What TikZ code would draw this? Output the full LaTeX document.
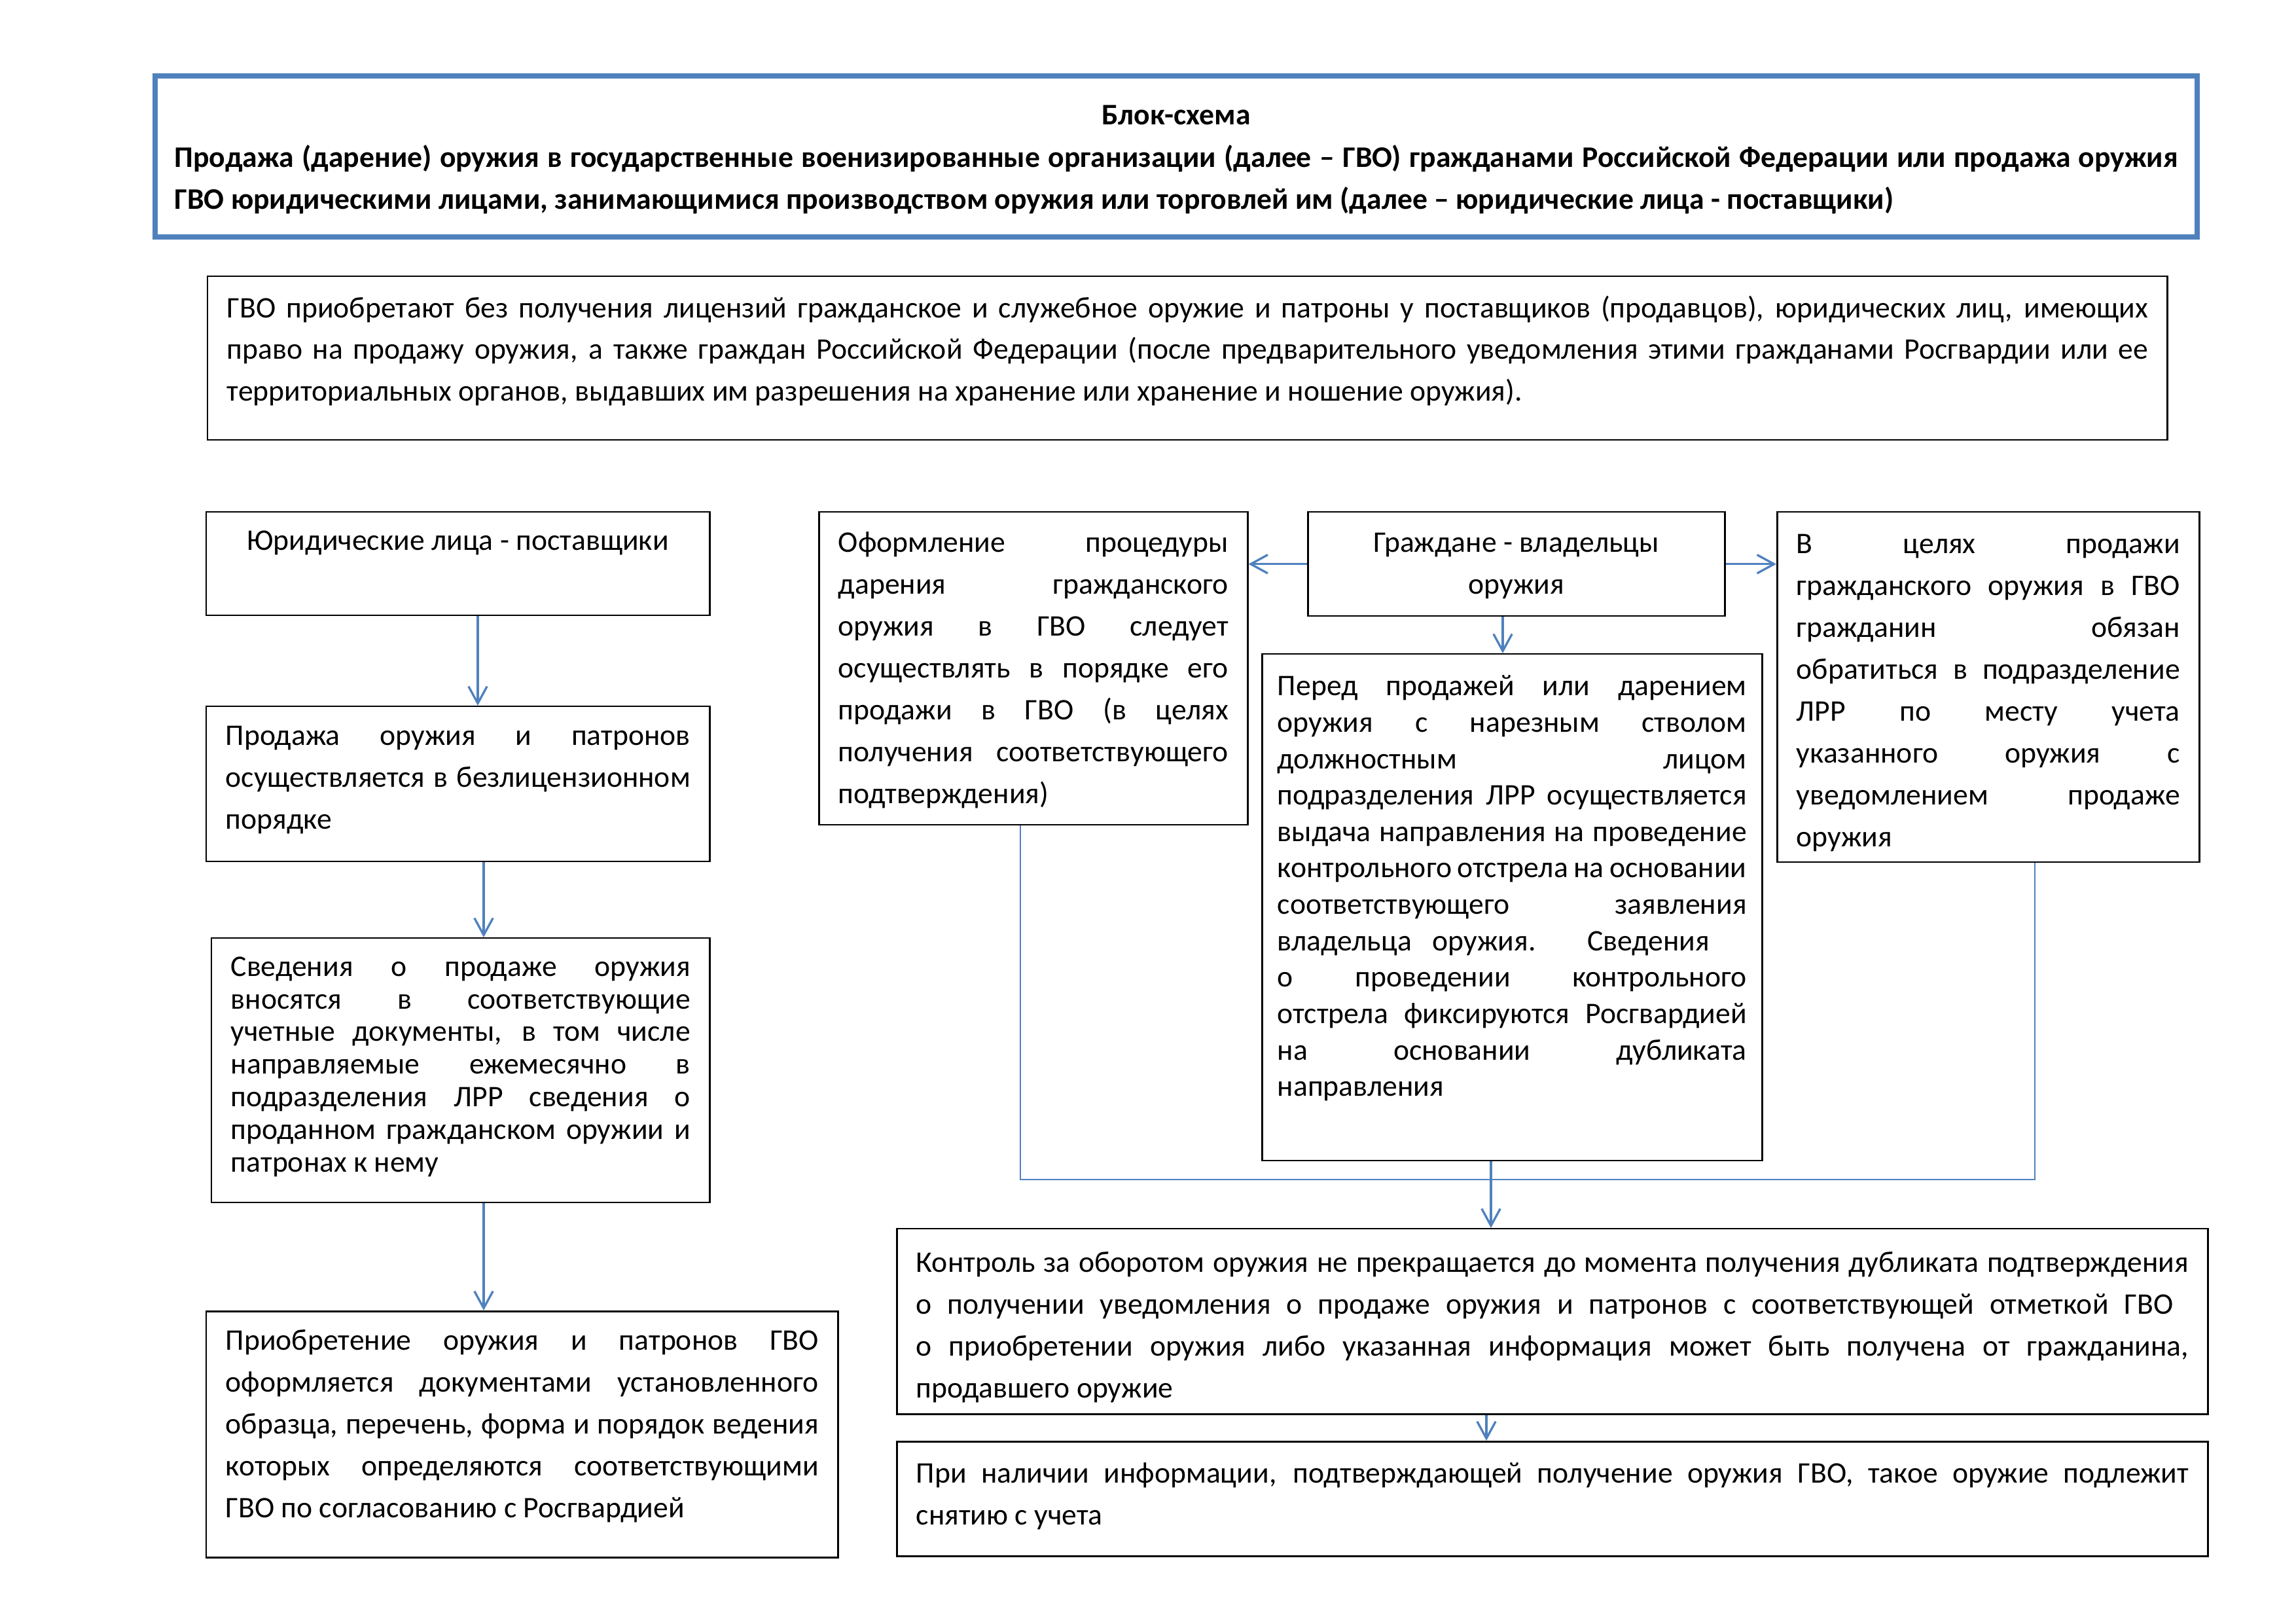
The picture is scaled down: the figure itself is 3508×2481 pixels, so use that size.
\documentclass[tikz,border=0pt]{standalone}
\usepackage{fontspec}
\setmainfont{Carlito}
\usetikzlibrary{arrows.meta}
\definecolor{flowblue}{HTML}{4F81BD}
\newlength{\pxu}\setlength{\pxu}{0.084664mm}
\newlength{\padx}\setlength{\padx}{2.5mm}
\newlength{\pady}\setlength{\pady}{2.4mm}
\hyphenpenalty=10000 \exhyphenpenalty=10000 \tolerance=10000 \hbadness=10000 \vbadness=10000
\newcommand{\boxtext}[5][8pt]{\parbox[t][\dimexpr#3\pxu-2\pady\relax][t]{\dimexpr#2\pxu-2\padx\relax}{\fontsize{11pt}{#4}\selectfont\leavevmode\rule{0pt}{#1}#5}}
\begin{document}
\begin{tikzpicture}[x=0.084664mm, y=-0.084664mm,
		box/.style={draw, line width=0.6pt, anchor=north west, inner xsep=\padx, inner ysep=\pady},
		flow/.style={draw=flowblue, line width=0.8pt, -{Straight Barb[length=2.2mm, width=2.4mm]}},
		link/.style={draw=flowblue, line width=0.4pt}]
		\useasboundingbox (0,0) rectangle (3508,2481);
		
		\node[box, draw=flowblue, line width=1.9pt] (title) at (233,112) {\boxtext[11.1pt]{3120}{246}{15.6pt}{\bfseries\centering Блок-схема\par
			\leftskip=0pt \rightskip=0pt \parfillskip=0pt plus 1fil
			Продажа (дарение) оружия в государственные военизированные организации (далее – ГВО) гражданами Российской Федерации или продажа оружия\linebreak
			ГВО юридическими лицами, занимающимися производством оружия или торговлей им (далее – юридические лица - поставщики)}};
		\node[box] (intro) at (316,421) {\boxtext[8.3pt]{2994}{250}{15.4pt}{ГВО приобретают без получения лицензий гражданское и служебное оружие и патроны у поставщиков (продавцов), юридических лиц, имеющих\linebreak
			право на продажу оружия, а также граждан Российской Федерации (после предварительного уведомления этими гражданами Росгвардии или ее\linebreak
			территориальных органов, выдавших им разрешения на хранение или хранение и ношение оружия).}};
		
		\node[box] (jur) at (314,781) {\boxtext[7pt]{769}{158}{15.4pt}{\centering Юридические лица - поставщики}};
		\node[box] (sale) at (314,1078) {\boxtext[7.4pt]{769}{237}{15.4pt}{Продажа оружия и патронов\linebreak
			осуществляется в безлицензионном\linebreak
			порядке}};
		\node[box] (sved) at (322,1432) {\boxtext[7pt]{761}{404}{12pt}{Сведения о продаже оружия\linebreak
			вносятся в соответствующие\linebreak
			учетные документы, в том числе\linebreak
			направляемые ежемесячно в\linebreak
			подразделения ЛРР сведения о\linebreak
			проданном гражданском оружии и\linebreak
			патронах к нему}};
		\node[box] (buy) at (314,2002) {\boxtext[7.4pt]{965}{376}{15.4pt}{Приобретение оружия и патронов ГВО\linebreak
			оформляется документами установленного\linebreak
			образца, перечень, форма и порядок ведения\linebreak
			которых определяются соответствующими\linebreak
			ГВО по согласованию с Росгвардией}};
		
		\node[box] (gift) at (1250,781) {\boxtext{655}{478}{15.4pt}{Оформление процедуры\linebreak
			дарения гражданского\linebreak
			оружия в ГВО следует\linebreak
			осуществлять в порядке его\linebreak
			продажи в ГВО (в целях\linebreak
			получения соответствующего\linebreak
			подтверждения)}};
		\node[box] (owners) at (1997,781) {\boxtext{637}{159}{15.4pt}{\centering Граждане - владельцы\\ оружия}};
		\node[box] (notice) at (2714,781) {\boxtext[8.5pt]{645}{535}{15.4pt}{В целях продажи\linebreak
			гражданского оружия в ГВО\linebreak
			гражданин обязан\linebreak
			обратиться в подразделение\linebreak
			ЛРР по месту учета\linebreak
			указанного оружия с\linebreak
			уведомлением продаже\linebreak
			оружия}};
		\node[box, inner xsep=2mm] (shot) at (1927,998) {\setlength{\padx}{2mm}\boxtext[8.5pt]{764}{774}{13.4pt}{Перед продажей или дарением\linebreak
			оружия с нарезным стволом\linebreak
			должностным лицом\linebreak
			подразделения ЛРР осуществляется\linebreak
			выдача направления на проведение\linebreak
			контрольного отстрела на основании\linebreak
			соответствующего заявления\linebreak
			владельца оружия. Сведения\hspace*{4.8mm}\linebreak
			о проведении контрольного\linebreak
			отстрела фиксируются Росгвардией\linebreak
			на основании дубликата\linebreak
			направления}};
		\node[box] (ctrl) at (1369,1876) {\boxtext[9.2pt]{2003}{283}{15.4pt}{Контроль за оборотом оружия не прекращается до момента получения дубликата подтверждения\linebreak
			о получении уведомления о продаже оружия и патронов с соответствующей отметкой ГВО\hspace*{2mm}\linebreak
			о приобретении оружия либо указанная информация может быть получена от гражданина,\linebreak
			продавшего оружие}};
		\node[box] (dereg) at (1369,2201) {\boxtext[8.5pt]{2003}{175}{15.4pt}{При наличии информации, подтверждающей получение оружия ГВО, такое оружие подлежит\linebreak
			снятию с учета}};
		
		\coordinate (ax) at (730,0);
		\coordinate (bx) at (739,0);
		\coordinate (cx) at (2296,0);
		\coordinate (dx) at (2278,0);
		\coordinate (ex) at (2271,0);
		\coordinate (kx) at (3109,0);
		\coordinate (jn) at (1559,1802);
		
		\draw[flow] (jur.south -| ax) -- (sale.north -| ax);
		\draw[flow] (sale.south -| bx) -- (sved.north -| bx);
		\draw[flow] (sved.south -| bx) -- (buy.north -| bx);
		\draw[flow] (owners.west) -- (owners.west -| gift.east);
		\draw[flow] (owners.east) -- (owners.east -| notice.west);
		\draw[flow] (owners.south -| cx) -- (shot.north -| cx);
		\draw[link] (gift.south -| jn) -- (jn) -| (notice.south -| kx);
		\draw[flow] (shot.south -| dx) -- (ctrl.north -| dx);
		\draw[flow] (ctrl.south -| ex) -- (dereg.north -| ex);
	\end{tikzpicture}
\end{document}
